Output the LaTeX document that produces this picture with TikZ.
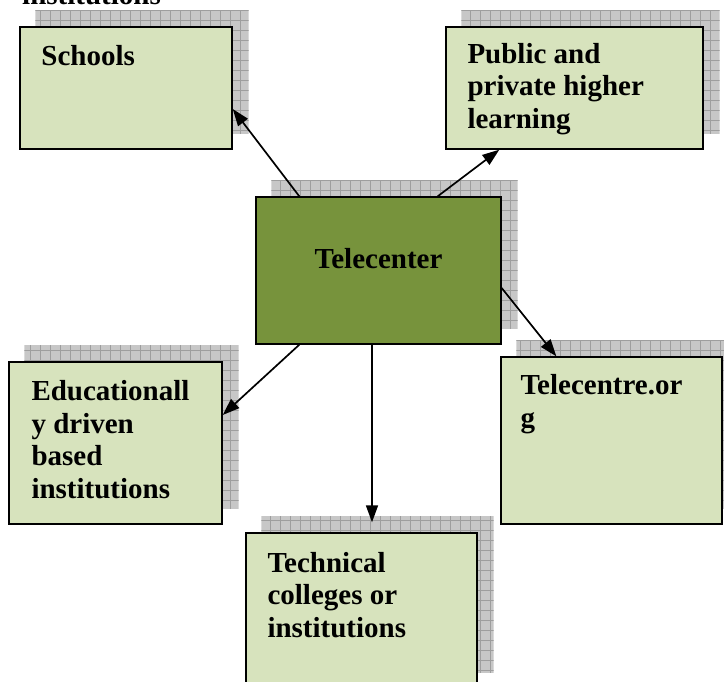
\documentclass[tikz,border=0pt]{standalone}
\usepackage{fontspec}
\setmainfont{Liberation Serif}
\usetikzlibrary{arrows.meta, calc, backgrounds}

\definecolor{boxgreen}{HTML}{D7E3BD}
\definecolor{hubgreen}{HTML}{77933C}

% hatched drop shadow up and to the right of a box
\newcommand{\gridshadow}[1]{%
  \begin{scope}
    \clip ($(#1.south west)+(16,-16)$) rectangle ($(#1.north east)+(16,-16)$);
    \fill[shadowgray] ($(#1.south west)+(16,-16)$) rectangle ($(#1.north east)+(16,-16)$);
    \draw[shadowgrid, step=10pt] (0,700) grid (750,0);
  \end{scope}}

\begin{document}
\begin{tikzpicture}[x=1pt, y=-1pt,
    box/.style={rectangle, draw, line width=1.4pt, fill=boxgreen},
    hub/.style={rectangle, draw, line width=1.4pt, fill=hubgreen},
    lbl/.style={font=\bfseries\fontsize{29}{32.5}\selectfont, align=left, inner sep=0pt, anchor=base west},
    arrow/.style={-{Triangle[length=17pt, width=12pt]}, line width=1.7pt},
    shadowgray/.style={fill=black!22},
    shadowgrid/.style={draw=black!38, line width=0.6pt}
]
\useasboundingbox (0,0) rectangle (724,682);
\clip (0,0) rectangle (724,682);

% Boxes
\node[box, minimum width=212pt, minimum height=122pt] (schools) at (126,88) {};
\node[box, minimum width=257pt, minimum height=122pt] (public) at (574.5,88) {};
\node[hub, minimum width=245pt, minimum height=147pt] (tele) at (378.5,270.5) {};
\node[box, minimum width=213pt, minimum height=162pt] (edu) at (115.5,443) {};
\node[box, minimum width=221pt, minimum height=167pt] (org) at (611.5,440.5) {};
\node[box, minimum width=231pt, minimum height=155pt] (tech) at (361.5,610.5) {};

% Shadows
\begin{scope}[on background layer]
\foreach \b in {schools, public, tele, edu, org, tech} {
    \gridshadow{\b}
}
\end{scope}

% Labels (base = last line)
\node[lbl] (prevline) at (22,5) {institutions};
\node[lbl] (schoolsText) at ([xshift=22pt, yshift=-39pt]schools.north west) {Schools};
\node[lbl] (publicText) at ([xshift=22pt, yshift=-102pt]public.north west) {Public and\\private higher\\learning};
\node[lbl, anchor=base] (teleText) at ([yshift=1.5pt]tele.center) {Telecenter};
\node[lbl] (eduText) at ([xshift=23pt, yshift=-137pt]edu.north west) {Educationall\\y driven\\based\\institutions};
\node[lbl] (orgText) at ([xshift=20pt, yshift=-71pt]org.north west) {Telecentre.or\\g};
\node[lbl] (techText) at ([xshift=22pt, yshift=-105pt]tech.north west) {Technical\\colleges or\\institutions};

% Connections
\draw[arrow] ([xshift=44pt]tele.north west) -- ([yshift=-21pt]schools.east);
\draw[arrow] ([xshift=-64pt]tele.north east) -- ([xshift=54pt]public.south west);
\draw[arrow] ([yshift=-17.5pt]tele.east) -- ([xshift=56pt]org.north west);
\draw[arrow] ([xshift=44pt]tele.south west) -- ([yshift=28pt]edu.east);
\draw[arrow] ([xshift=-6.5pt]tele.south) -- ([xshift=10.5pt, yshift=10pt]tech.north);

\end{tikzpicture}
\end{document}
